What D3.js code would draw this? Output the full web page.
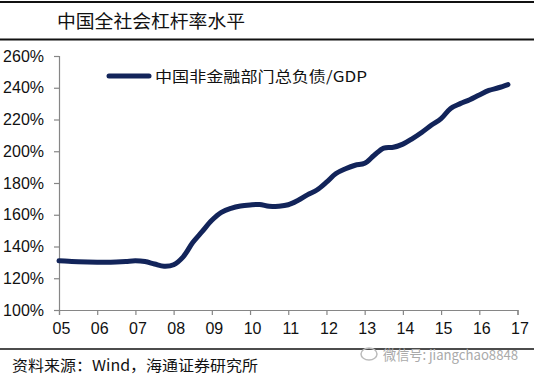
<!DOCTYPE html>
<html>
<head>
<meta charset="utf-8">
<script src="https://cdn.jsdelivr.net/npm/d3@7"></script>
<style>
  body { margin: 0; background: #fff; }
  svg { display: block; }
  .axis path, .axis line { stroke: #868686; stroke-width: 1.2; }
  .axis text { font-family: "Liberation Sans", Arial, sans-serif; font-size: 16px; fill: #111; }
</style>
</head>
<body>
<svg id="chart"></svg>
<script>
// quarterly debt / GDP
const quarters = [
  "2005Q1","2005Q2","2005Q3","2005Q4","2006Q1","2006Q2","2006Q3","2006Q4",
  "2007Q1","2007Q2","2007Q3","2007Q4","2008Q1","2008Q2","2008Q3","2008Q4",
  "2009Q1","2009Q2","2009Q3","2009Q4","2010Q1","2010Q2","2010Q3","2010Q4",
  "2011Q1","2011Q2","2011Q3","2011Q4","2012Q1","2012Q2","2012Q3","2012Q4",
  "2013Q1","2013Q2","2013Q3","2013Q4","2014Q1","2014Q2","2014Q3","2014Q4",
  "2015Q1","2015Q2","2015Q3","2015Q4","2016Q1","2016Q2","2016Q3","2016Q4"
];
const debtRatio = [
  131.0, 130.7, 130.4, 130.2, 130.1, 130.1, 130.3, 130.6,
  131.0, 130.5, 129.0, 127.6, 128.5, 133.5, 142.5, 149.5,
  156.5, 161.5, 164.0, 165.5, 166.2, 166.5, 165.3, 165.4,
  166.3, 169.0, 172.5, 175.6, 180.5, 186.0, 189.0, 191.2,
  192.4, 197.5, 202.0, 202.5, 204.5, 208.0, 212.0, 216.5,
  220.5, 227.0, 230.0, 232.5, 235.5, 238.3, 240.0, 242.0
];
const yearTicks = [2005, 2006, 2007, 2008, 2009, 2010, 2011, 2012, 2013, 2014, 2015, 2016, 2017];
const yearLabels = ["05","06","07","08","09","10","11","12","13","14","15","16","17"];
const pctTicks = [100, 120, 140, 160, 180, 200, 220, 240, 260];

const title = "中国全社会杠杆率水平";
const seriesName = "中国非金融部门总负债/GDP";
const source = "资料来源：Wind，海通证券研究所";
const watermark = "微信号: jiangchao8848";

const W = 534, H = 378;
const lineColor = "#12245a";

const svg = d3.select("#chart").attr("width", W).attr("height", H);

// header rules + title
svg.append("line").attr("x1", 0).attr("x2", W).attr("y1", 2).attr("y2", 2)
  .attr("stroke", "#111").attr("stroke-width", 2);
svg.append("line").attr("x1", 0).attr("x2", W).attr("y1", 39.5).attr("y2", 39.5)
  .attr("stroke", "#111").attr("stroke-width", 2);
svg.append("text")
  .attr("x", 57).attr("y", 28)
  .attr("textLength", 188).attr("lengthAdjust", "spacingAndGlyphs")
  .style("font-family", "'Noto Sans CJK SC', sans-serif")
  .style("font-size", "18px")
  .style("fill", "#111")
  .text(title);

const xScale = d3.scaleLinear().domain([2005, 2017]).range([59, 517.5]);
const yScale = d3.scaleLinear().domain([100, 260]).range([310, 56]);

const xAxis = svg.append("g").attr("class", "axis")
  .attr("transform", `translate(0,${yScale(100)})`)
  .call(d3.axisBottom(xScale).tickValues(yearTicks).tickSize(5).tickPadding(8)
    .tickFormat((d, i) => yearLabels[i]));
xAxis.selectAll("text").attr("dx", 2);

const yAxis = svg.append("g").attr("class", "axis")
  .attr("transform", `translate(${xScale(2005)},0)`)
  .call(d3.axisLeft(yScale).tickValues(pctTicks).tickSize(5).tickPadding(10)
    .tickFormat(d => d + "%"));

// series
const pts = quarters.map((q, i) => {
  const yr = +q.slice(0, 4), qt = +q.slice(5);
  return { t: yr + (qt - 1) / 4, v: debtRatio[i] };
});
const line = d3.line()
  .x(d => xScale(d.t))
  .y(d => yScale(d.v))
  .curve(d3.curveCatmullRom.alpha(0.5));
svg.append("path").datum(pts)
  .attr("d", line)
  .attr("fill", "none")
  .attr("stroke", lineColor)
  .attr("stroke-width", 5)
  .attr("stroke-linecap", "round")
  .attr("stroke-linejoin", "round");

// legend
svg.append("line").attr("x1", 109).attr("x2", 149).attr("y1", 76).attr("y2", 76)
  .attr("stroke", lineColor).attr("stroke-width", 5).attr("stroke-linecap", "round");
svg.append("text")
  .attr("x", 155).attr("y", 81.5)
  .attr("textLength", 212).attr("lengthAdjust", "spacingAndGlyphs")
  .style("font-family", "'Noto Sans CJK SC', sans-serif")
  .style("font-size", "15px")
  .style("fill", "#111")
  .text(seriesName);

// footer
svg.append("line").attr("x1", 0).attr("x2", W).attr("y1", 349).attr("y2", 349)
  .attr("stroke", "#111").attr("stroke-width", 1.5);
svg.append("text")
  .attr("x", 12).attr("y", 371)
  .attr("textLength", 246).attr("lengthAdjust", "spacingAndGlyphs")
  .style("font-family", "'Noto Sans CJK SC', sans-serif")
  .style("font-size", "15px")
  .style("fill", "#111")
  .text(source);

// watermark
svg.append("ellipse").attr("cx", 369).attr("cy", 354).attr("rx", 8).attr("ry", 6)
  .attr("fill", "none").attr("stroke", "#bbb").attr("stroke-width", 1.5);
svg.append("text")
  .attr("x", 383).attr("y", 360)
  .attr("textLength", 135).attr("lengthAdjust", "spacingAndGlyphs")
  .style("font-family", "'Noto Sans CJK SC', sans-serif")
  .style("font-size", "14px")
  .style("fill", "#aaa")
  .text(watermark);
</script>
</body>
</html>
